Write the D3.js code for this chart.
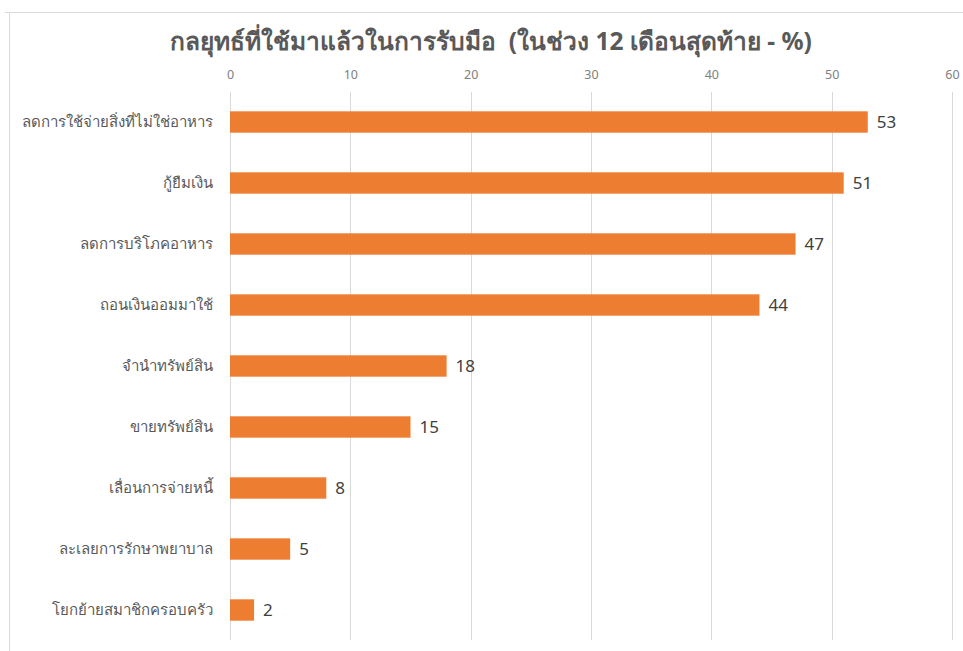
<!DOCTYPE html>
<html>
<head>
<meta charset="utf-8">
<script src="https://cdn.jsdelivr.net/npm/d3@7"></script>
<style>
  body { margin: 0; background: #fff; }
  svg { display: block; font-family: "Noto Sans", "DejaVu Sans", sans-serif; }
</style>
</head>
<body>
<div id="chart"></div>
<script>
const categories = [
    "ลดการใช้จ่ายสิ่งที่ไม่ใช่อาหาร",
    "กู้ยืมเงิน",
    "ลดการบริโภคอาหาร",
    "ถอนเงินออมมาใช้",
    "จำนำทรัพย์สิน",
    "ขายทรัพย์สิน",
    "เลื่อนการจ่ายหนี้",
    "ละเลยการรักษาพยาบาล",
    "โยกย้ายสมาชิกครอบครัว"
];
const values = [53, 51, 47, 44, 18, 15, 8, 5, 2];
const tickValues = [0, 10, 20, 30, 40, 50, 60];
const title = "กลยุทธ์ที่ใช้มาแล้วในการรับมือ  (ในช่วง 12 เดือนสุดท้าย - %)";

const width = 963;
const height = 651;
const margin = { top: 92, left: 230, right: 11, bottom: 11 };

const svg = d3.select("#chart")
    .append("svg")
    .attr("width", width)
    .attr("height", height);

// chart frame (only top and left edges visible in the picture)
svg.append("line")
    .attr("x1", 5).attr("x2", width).attr("y1", 12.5).attr("y2", 12.5)
    .attr("stroke", "#d9d9d9");
svg.append("line")
    .attr("x1", 9.5).attr("x2", 9.5).attr("y1", 12.5).attr("y2", height)
    .attr("stroke", "#d9d9d9");

const x = d3.scaleLinear()
    .domain([0, 60])
    .range([margin.left, 952]);

const y = d3.scaleBand()
    .domain(categories)
    .range([margin.top - 0.5, 640.5])
    .paddingInner(0.65)
    .paddingOuter(0.325);

// gridlines
svg.append("g")
    .selectAll("line")
    .data(tickValues)
    .join("line")
    .attr("x1", d => Math.round(x(d)) + 0.5)
    .attr("x2", d => Math.round(x(d)) + 0.5)
    .attr("y1", margin.top)
    .attr("y2", 640)
    .attr("stroke", "#d9d9d9");

// top axis labels
const xAxis = svg.append("g")
    .attr("transform", `translate(0, ${margin.top})`)
    .call(d3.axisTop(x).tickValues(tickValues).tickSize(0).tickPadding(13));
xAxis.select(".domain").remove();
xAxis.selectAll("text")
    .style("font-size", "12.5px")
    .style("font-family", "'Noto Sans', sans-serif")
    .attr("fill", "#808080");

// category labels
const yAxis = svg.append("g")
    .attr("transform", `translate(${margin.left}, 0)`)
    .call(d3.axisLeft(y).tickSize(0).tickPadding(17));
yAxis.select(".domain").remove();
yAxis.selectAll("text")
    .style("font-size", "15px")
    .style("font-family", "'Noto Sans', sans-serif")
    .attr("fill", "#595959");

// bars
svg.append("g")
    .selectAll("rect")
    .data(values)
    .join("rect")
    .attr("x", x(0))
    .attr("y", (d, i) => y(categories[i]))
    .attr("width", d => x(d) - x(0))
    .attr("height", y.bandwidth())
    .attr("fill", "#ED7D31");

// value labels
svg.append("g")
    .selectAll("text")
    .data(values)
    .join("text")
    .attr("x", d => x(d) + 9)
    .attr("y", (d, i) => y(categories[i]) + y.bandwidth() / 2)
    .attr("dy", "0.36em")
    .style("font-size", "17px")
    .attr("fill", "#404040")
    .text(d => d);

// title
svg.append("text")
    .attr("x", 491)
    .attr("y", 50)
    .attr("text-anchor", "middle")
    .style("font-size", "24.5px")
    .style("font-weight", "bold")
    .attr("fill", "#595959")
    .attr("xml:space", "preserve")
    .style("white-space", "pre")
    .text(title);
</script>
</body>
</html>
